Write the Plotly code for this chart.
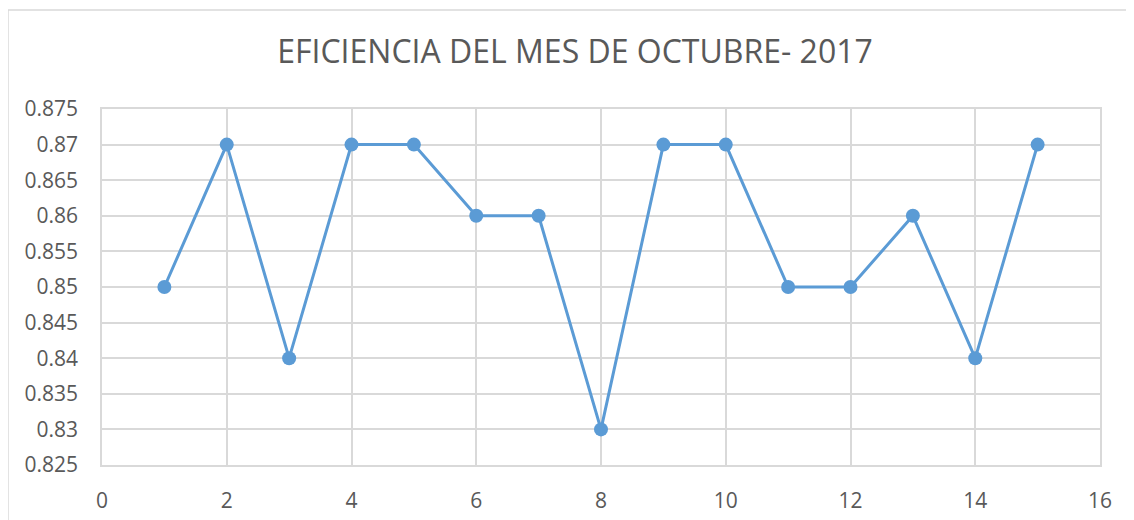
import plotly.graph_objects as go

# Datos: eficiencia diaria, octubre 2017
dias = [1, 2, 3, 4, 5, 6, 7, 8, 9, 10, 11, 12, 13, 14, 15]
eficiencia = [0.85, 0.87, 0.84, 0.87, 0.87, 0.86, 0.86, 0.83,
              0.87, 0.87, 0.85, 0.85, 0.86, 0.84, 0.87]
y_ticks = [0.825, 0.83, 0.835, 0.84, 0.845, 0.85, 0.855, 0.86,
           0.865, 0.87, 0.875]
y_labels = ['0.825', '0.83', '0.835', '0.84', '0.845', '0.85', '0.855',
            '0.86', '0.865', '0.87', '0.875']

fig = go.Figure()
fig.add_trace(go.Scatter(
    x=dias, y=eficiencia,
    mode='lines+markers',
    line=dict(color='#5B9BD5', width=3),
    marker=dict(color='#5B9BD5', size=14),
    showlegend=False
))

grid = '#D9D9D9'
fig.update_xaxes(range=[0, 16], tick0=0, dtick=2, showgrid=True, gridcolor=grid,
                 gridwidth=1.5, showline=True, linecolor=grid, linewidth=1.5,
                 mirror=True, zeroline=False, ticks='', ticklabelstandoff=16,
                 tickfont=dict(size=21, color='#595959'))
fig.update_yaxes(range=[0.825, 0.875], tickvals=y_ticks, ticktext=y_labels,
                 showgrid=True, gridcolor=grid, gridwidth=1.5, showline=True,
                 linecolor=grid, linewidth=1.5, mirror=True, zeroline=False,
                 ticks='', ticklabelstandoff=18,
                 tickfont=dict(size=21, color='#595959'))

# marco exterior del gráfico
fig.add_shape(type='rect', xref='paper', yref='paper',
              x0=-0.0942, x1=1.033, y0=-0.3, y1=1.278,
              line=dict(color='#D9D9D9', width=1.5), layer='below')

fig.update_layout(
    title=dict(text='EFICIENCIA DEL MES DE OCTUBRE- 2017', x=0.5, xanchor='center',
               y=0.915, yanchor='middle',
               font=dict(size=32, color='#595959')),
    width=1134, height=520,
    margin=dict(l=94, r=42, t=101, b=63),
    paper_bgcolor='white', plot_bgcolor='white',
    font=dict(family='Open Sans, sans-serif', color='#595959')
)

fig.write_html('out.html')
